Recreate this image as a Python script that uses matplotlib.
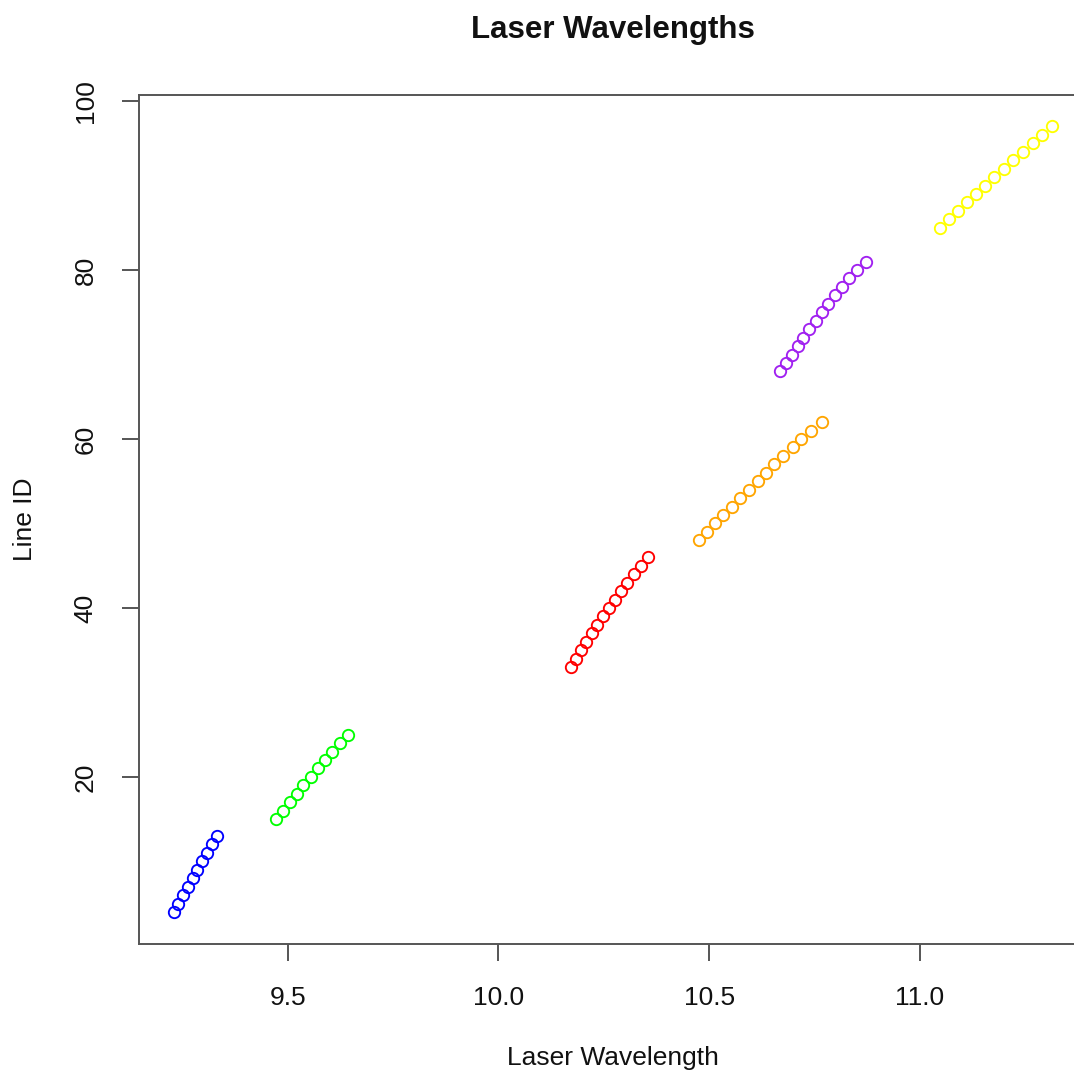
import numpy as np
import matplotlib
matplotlib.use("Agg")
import matplotlib.pyplot as plt

plt.rcParams['font.family'] = ['Liberation Sans', 'DejaVu Sans']

# laser lines per band: wavelength (um) and line id
blue_wl = [9.229, 9.240, 9.251, 9.262, 9.274, 9.285, 9.296, 9.308, 9.320, 9.331]
blue_id = [4, 5, 6, 7, 8, 9, 10, 11, 12, 13]

green_wl = [9.472, 9.488, 9.504, 9.521, 9.537, 9.554, 9.571, 9.589, 9.606, 9.624, 9.642]
green_id = [15, 16, 17, 18, 19, 20, 21, 22, 23, 24, 25]

red_wl = [10.172, 10.184, 10.196, 10.208, 10.221, 10.235, 10.248,
          10.262, 10.277, 10.291, 10.306, 10.322, 10.338, 10.354]
red_id = [33, 34, 35, 36, 37, 38, 39, 40, 41, 42, 43, 44, 45, 46]

orange_wl = [10.476, 10.496, 10.514, 10.534, 10.554, 10.574, 10.595, 10.615,
             10.635, 10.654, 10.676, 10.698, 10.719, 10.741, 10.769]
orange_id = [48, 49, 50, 51, 52, 53, 54, 55, 56, 57, 58, 59, 60, 61, 62]

purple_wl = [10.668, 10.682, 10.696, 10.710, 10.724, 10.737, 10.753,
             10.768, 10.783, 10.799, 10.815, 10.832, 10.852, 10.872]
purple_id = [68, 69, 70, 71, 72, 73, 74, 75, 76, 77, 78, 79, 80, 81]

yellow_wl = [11.048, 11.070, 11.091, 11.112, 11.133, 11.155, 11.177,
             11.199, 11.222, 11.244, 11.268, 11.291, 11.315]
yellow_id = [85, 86, 87, 88, 89, 90, 91, 92, 93, 94, 95, 96, 97]

bands = [
    (blue_wl, blue_id, "#0000FF"),
    (green_wl, green_id, "#00FF00"),
    (red_wl, red_id, "#FF0000"),
    (orange_wl, orange_id, "#FFA500"),
    (purple_wl, purple_id, "#A020F0"),
    (yellow_wl, yellow_id, "#FFFF00"),
]

xticks = [9.5, 10.0, 10.5, 11.0]
yticks = [20, 40, 60, 80, 100]

W = H = 1074
fig = plt.figure(figsize=(W / 100, H / 100), dpi=100)

# 4% padding on each side of the data range
all_x = np.concatenate([b[0] for b in bands])
all_y = np.concatenate([b[1] for b in bands])
xr = all_x.max() - all_x.min()
yr = all_y.max() - all_y.min()
xlim = (all_x.min() - 0.04 * xr, all_x.max() + 0.04 * xr)
ylim = (all_y.min() - 0.04 * yr, all_y.max() + 0.04 * yr)

# plot region: fixed pixel scale, right edge runs off the canvas
px_per_um = 421.3
left_px, top_px, bottom_px = 138.5, 95, 943.5
width_px = (xlim[1] - xlim[0]) * px_per_um
ax = fig.add_axes([left_px / W, 1 - bottom_px / H,
                   width_px / W, (bottom_px - top_px) / H])

for wl, ids, col in bands:
    ax.plot(wl, ids, linestyle="none", marker="o", markersize=8.2,
            markerfacecolor="none", markeredgecolor=col, markeredgewidth=1.35)

ax.set_xlim(xlim)
ax.set_ylim(ylim)
ax.set_xticks(xticks)
ax.set_xticklabels(["9.5", "10.0", "10.5", "11.0"])
ax.set_yticks(yticks)
ax.set_yticklabels([str(v) for v in yticks], rotation=90, va="center")

for s in ax.spines.values():
    s.set_color("#555555")
    s.set_linewidth(1.4)
ax.tick_params(length=12.5, width=1.4, color="#555555", labelsize=19,
               labelcolor="#111111")
ax.tick_params(axis="x", pad=18)
ax.tick_params(axis="y", pad=17)

cx = (left_px + width_px / 2) / W
fig.text(cx, 1 - 30 / H, "Laser Wavelengths", ha="center", va="center",
         fontsize=22.5, fontweight="bold", color="#111111")
fig.text(cx, 1 - 1058 / H, "Laser Wavelength", ha="center", va="center",
         fontsize=19, color="#111111")
fig.text(25 / W, 1 - (top_px + bottom_px) / 2 / H, "Line ID", ha="center",
         va="center", rotation=90, fontsize=19, color="#111111")

fig.savefig("out.png", dpi=100)
